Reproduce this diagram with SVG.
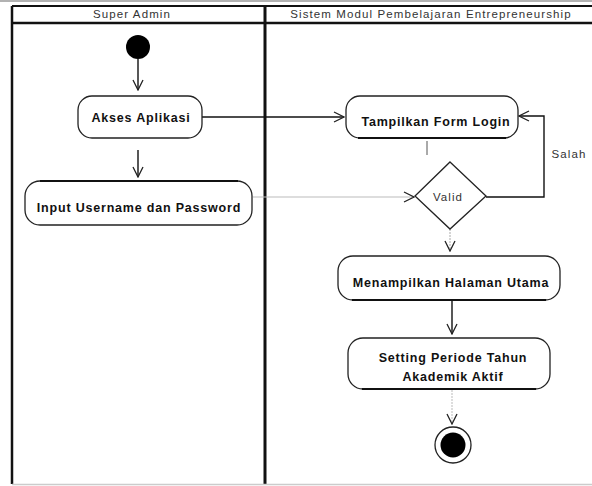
<svg xmlns="http://www.w3.org/2000/svg" width="592" height="486" viewBox="0 0 592 486">
  <defs>
    <marker id="open" viewBox="0 0 12 12" refX="11" refY="6" markerWidth="12" markerHeight="12" markerUnits="userSpaceOnUse" orient="auto">
      <path d="M1,1 L11,6 L1,11" fill="none" stroke="#222" stroke-width="1.3"/>
    </marker>
  </defs>
  <style>
    .frame { stroke: #111; fill: none; }
    .act { fill: #fff; stroke: #222; stroke-width: 1.3; }
    .lbl { font-family: "Liberation Sans", Arial, sans-serif; font-size: 12.5px; letter-spacing: 0.8px; font-weight: bold; fill: #111; text-anchor: middle; }
    .hdr { font-family: "Liberation Sans", Arial, sans-serif; font-size: 11.5px; letter-spacing: 1.1px; fill: #333; text-anchor: middle; }
    .edge { fill: none; stroke: #111; stroke-width: 1.4; }
    .faint { fill: none; stroke: #bbb; stroke-width: 1; }
  </style>
  <rect width="592" height="486" fill="#fff"/>

  <!-- swimlane frame -->
  <g id="lanes">
    <line x1="0" y1="1" x2="592" y2="1" stroke="#999" stroke-width="1.5"/>
    <line x1="12" y1="6" x2="592" y2="6" class="frame" stroke-width="2"/>
    <line x1="12" y1="23" x2="592" y2="23" class="frame" stroke-width="2.5"/>
    <line x1="12" y1="6" x2="12" y2="484" class="frame" stroke-width="2.5"/>
    <line x1="265" y1="6" x2="265" y2="484" class="frame" stroke-width="3"/>
    <line x1="12" y1="484.5" x2="592" y2="484.5" stroke="#ccc" stroke-width="1.5"/>
    <text class="hdr" x="132" y="18">Super Admin</text>
    <text class="hdr" x="431" y="18">Sistem Modul Pembelajaran Entrepreneurship</text>
  </g>

  <!-- connectors -->
  <g id="connectors">
    <line class="edge" x1="138" y1="59" x2="138" y2="90" marker-end="url(#open)"/>
    <line class="edge" x1="138" y1="150" x2="138" y2="177" marker-end="url(#open)"/>
    <line class="edge" x1="202" y1="117" x2="344" y2="117" marker-end="url(#open)"/>
    <line x1="427" y1="141" x2="427" y2="155" stroke="#555" stroke-width="1"/>
    <line class="faint" x1="253" y1="197" x2="414" y2="197" marker-end="url(#open)"/>
    <polyline class="edge" points="486,197 544,197 544,116 519,116" marker-end="url(#open)"/>
    <text class="hdr" x="569" y="158" font-size="10" letter-spacing="0.5">Salah</text>
    <line x1="450" y1="229" x2="450" y2="251" stroke="#aaa" stroke-width="1" stroke-dasharray="2,1" marker-end="url(#open)"/>
    <line class="edge" x1="452" y1="301" x2="452" y2="334" stroke-width="2" marker-end="url(#open)"/>
    <line x1="452" y1="390" x2="452" y2="424" stroke="#bbb" stroke-width="1" stroke-dasharray="2,1" marker-end="url(#open)"/>
  </g>

  <!-- start node -->
  <g id="start">
    <circle cx="138" cy="47" r="12" fill="#000"/>
  </g>

  <g id="akses">
    <rect class="act" x="78" y="96" width="124" height="42" rx="14"/>
    <text class="lbl" x="141" y="122">Akses Aplikasi</text>
  </g>

  <g id="input">
    <rect class="act" x="25" y="181" width="227" height="44" rx="15"/>
    <line x1="40" y1="181" x2="238" y2="181" stroke="#111" stroke-width="2"/>
    <text class="lbl" x="139" y="212">Input Username dan Password</text>
  </g>

  <g id="form-login">
    <rect class="act" x="346" y="96" width="172" height="42" rx="14"/>
    <line x1="358" y1="138" x2="506" y2="138" stroke="#111" stroke-width="2"/>
    <text class="lbl" x="436" y="126">Tampilkan Form Login</text>
  </g>

  <g id="valid">
    <polygon points="450,162 486,196 450,229 415,196" fill="#fff" stroke="#222" stroke-width="1.3"/>
    <text class="hdr" x="448" y="201" fill="#555">Valid</text>
  </g>

  <g id="halaman-utama">
    <rect class="act" x="338" y="256" width="222" height="44" rx="15"/>
    <line x1="352" y1="300" x2="546" y2="300" stroke="#111" stroke-width="2"/>
    <text class="lbl" x="451" y="287">Menampilkan Halaman Utama</text>
  </g>

  <g id="periode">
    <rect class="act" x="348" y="338" width="202" height="51" rx="15"/>
    <line x1="362" y1="389" x2="536" y2="389" stroke="#111" stroke-width="2"/>
    <text class="lbl" x="453" y="362">Setting Periode Tahun</text>
    <text class="lbl" x="453" y="381">Akademik Aktif</text>
  </g>

  <!-- end node -->
  <g id="end">
    <circle cx="453" cy="445" r="18" fill="#fff" stroke="#222" stroke-width="1.3"/>
    <circle cx="453" cy="445" r="12.5" fill="#000"/>
  </g>
</svg>
